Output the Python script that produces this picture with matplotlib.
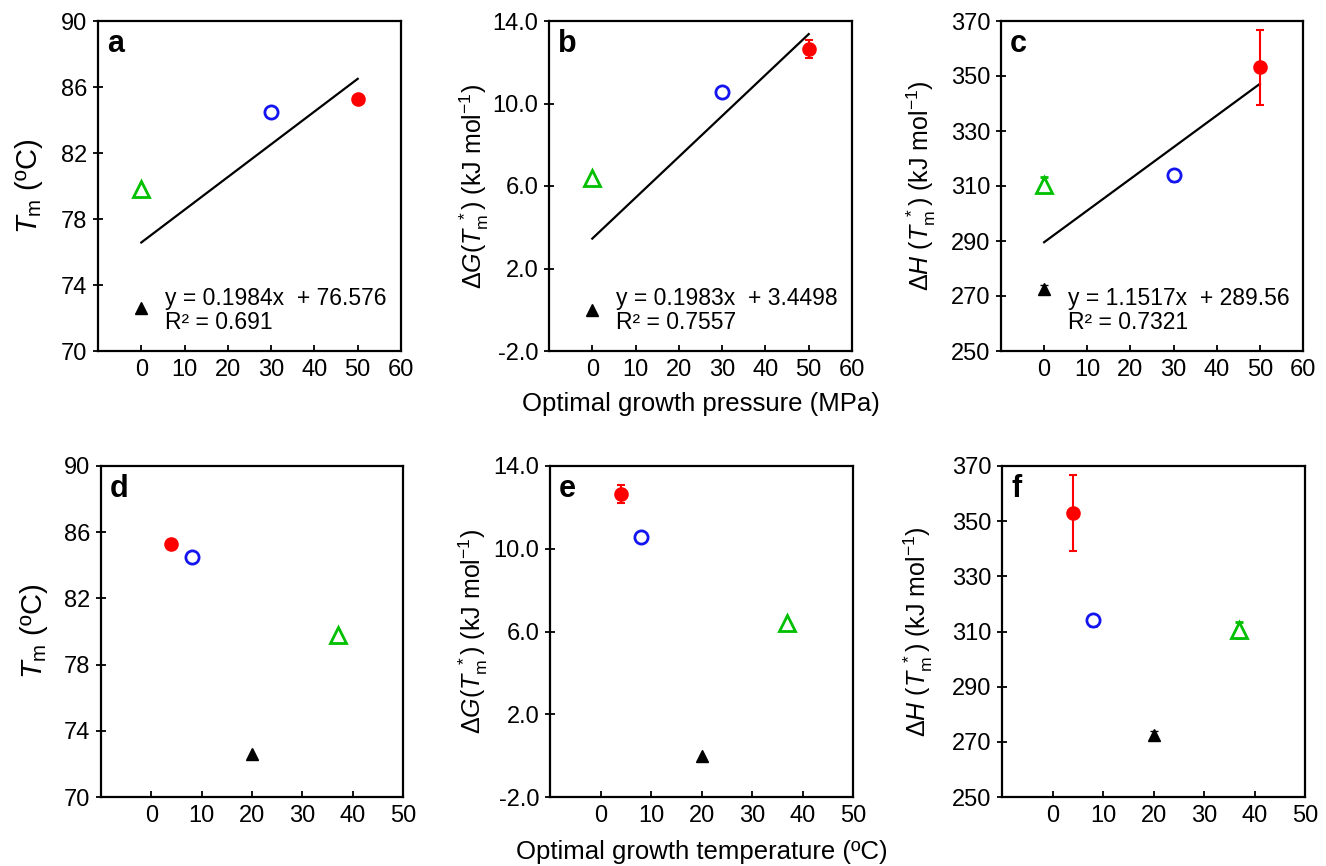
import numpy as np
from matplotlib import pyplot as plt
from matplotlib.ticker import FormatStrFormatter

plt.rcParams['font.family'] = ['Liberation Sans', 'DejaVu Sans']
plt.rcParams['mathtext.fontset'] = 'custom'
plt.rcParams['mathtext.rm'] = 'Liberation Sans'
plt.rcParams['mathtext.it'] = 'Liberation Sans:italic'
plt.rcParams['axes.unicode_minus'] = False

# four organisms: red (filled circle), blue (open circle), green (open triangle), black (filled triangle)
pressure = [50, 30, 0, 0]
temperature = [4, 8, 37, 20]

tm_values = [85.3, 84.5, 79.8, 72.6]
dg_values = [12.63, 10.58, 6.4, 0.0]
dg_errors = [0.44, 0.0, 0.0, 0.0]
dh_values = [353.1, 314.0, 310.5, 272.4]
dh_errors = [13.8, 2.0, 2.8, 1.6]

fits = [(0.1984, 76.576), (0.1983, 3.4498), (1.1517, 289.56)]
fit_texts = [
    "y = 0.1984x  + 76.576\nR² = 0.691",
    "y = 0.1983x  + 3.4498\nR² = 0.7557",
    "y = 1.1517x  + 289.56\nR² = 0.7321",
]

styles = [
    dict(marker='o', color='#ff0000', mfc='#ff0000', ms=9, mew=1.5),
    dict(marker='o', color='#1414f0', mfc='white', ms=9.5, mew=2),
    dict(marker='^', color='#00c000', mfc='white', ms=11, mew=2),
    dict(marker='^', color='black', mfc='black', ms=8, mew=1),
]

tm_label = r"$T_\mathrm{m}$ (ºC)"
dg_label = r"Δ$G$($T_\mathrm{m}^{\ *}$) (kJ mol$^{\mathrm{-1}}$)"
dh_label = r"Δ$H$ ($T_\mathrm{m}^{\ *}$) (kJ mol$^{\mathrm{-1}}$)"

W, H = 1326, 866
boxes = [
    (98, 21, 401, 351), (549, 21, 852, 351), (1001, 21, 1303, 351),
    (101, 466, 403, 797), (550, 466, 853, 797), (1002, 466, 1305, 797),
]


def make_axes(fig, box):
    left, top, right, bottom = box
    return fig.add_axes([left / W, 1 - bottom / H, (right - left) / W, (bottom - top) / H])


def style_axis(axis, letter):
    for spine in axis.spines.values():
        spine.set_linewidth(1.6)
    axis.tick_params(axis='x', direction='in', length=4, width=1.3, labelsize=17, pad=6)
    axis.tick_params(axis='y', direction='inout', length=7, width=1.3, labelsize=17, pad=4)
    axis.text(0.03, 0.975, letter, transform=axis.transAxes, ha='left', va='top',
              fontsize=22, fontweight='bold')


def main():
    fig = plt.figure(figsize=(W / 100, H / 100), dpi=100)

    y_sets = [
        (tm_values, None, (70, 90), np.arange(70, 91, 4), '%d', tm_label, 21),
        (dg_values, dg_errors, (-2, 14), np.arange(-2, 15, 4), '%.1f', dg_label, 18),
        (dh_values, dh_errors, (250, 370), np.arange(250, 371, 20), '%d', dh_label, 18),
    ]
    label_x = [-0.175, -0.19, -0.21, -0.168, -0.198, -0.222]
    letters = 'abcdef'

    for i, box in enumerate(boxes):
        axis = make_axes(fig, box)
        row, col = divmod(i, 3)
        values, errors, ylim, yticks, fmt, ylabel, lsize = y_sets[col]
        x_values = pressure if row == 0 else temperature

        for j in range(4):
            err = None if errors is None or errors[j] == 0 else errors[j]
            axis.errorbar(x_values[j], values[j], yerr=err, linestyle='none',
                          capsize=3, elinewidth=1.5, capthick=1.5, zorder=3,
                          **styles[j])

        if row == 0:
            slope, intercept = fits[col]
            line_x = np.array([0, 50])
            axis.plot(line_x, slope * line_x + intercept, color='black',
                      linewidth=1.6, zorder=2)
            axis.text(0.222, 0.195, fit_texts[col], transform=axis.transAxes,
                      ha='left', va='top', fontsize=16.5, linespacing=1.1)
            axis.set_xlim(-10, 60)
            axis.set_xticks(range(0, 61, 10))
        else:
            axis.set_xlim(-10, 50)
            axis.set_xticks(range(0, 51, 10))

        axis.set_ylim(*ylim)
        axis.set_yticks(yticks)
        axis.yaxis.set_major_formatter(FormatStrFormatter(fmt))
        axis.set_ylabel(ylabel, fontsize=lsize)
        axis.yaxis.set_label_coords(label_x[i], 0.5)
        style_axis(axis, letters[i])

        if i == 1:
            axis.set_xlabel("Optimal growth pressure (MPa)", fontsize=18.5)
            axis.xaxis.set_label_coords(0.5, -0.125)
        if i == 4:
            axis.set_xlabel("Optimal growth temperature (ºC)", fontsize=18.5)
            axis.xaxis.set_label_coords(0.5, -0.13)

    fig.savefig('out.png', dpi=100)


if __name__ == '__main__':
    main()
